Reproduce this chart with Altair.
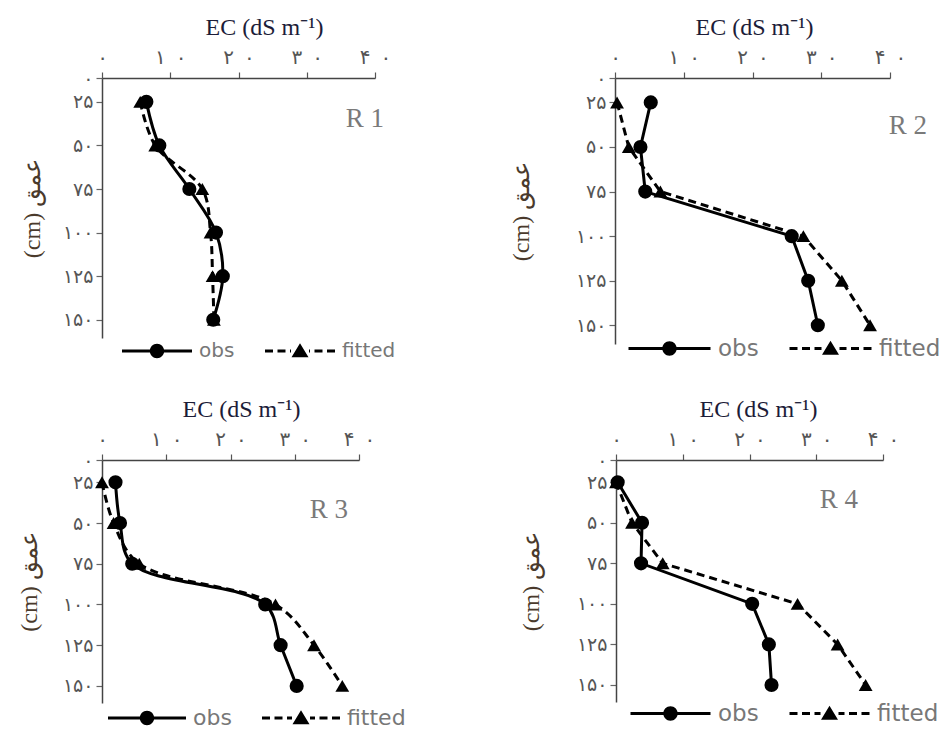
import altair as alt
import pandas as pd

# ---------------- data ----------------
depths = [25, 50, 75, 100, 125, 150]
series_names = ["obs", "fitted"]
panel_ids = ["R1", "R2", "R3", "R4"]
panel_labels = ["R 1", "R 2", "R 3", "R 4"]

obs_r1 = [6.5, 8.4, 12.8, 16.7, 17.7, 16.3]
fit_r1 = [5.6, 7.8, 14.7, 15.9, 16.2, 16.4]
obs_r2 = [5.2, 3.7, 4.4, 25.7, 28.1, 29.5]
fit_r2 = [0.3, 2.0, 6.6, 27.4, 33.0, 37.1]
obs_r3 = [2.1, 2.8, 4.7, 25.4, 27.8, 30.3]
fit_r3 = [0.0, 1.8, 5.8, 27.0, 33.0, 37.4]
obs_r4 = [0.25, 3.9, 3.75, 20.4, 22.9, 23.3]
fit_r4 = [0.0, 2.4, 7.0, 27.2, 33.2, 37.4]

x_ticks = [0, 10, 20, 30, 40]
x_tick_labels = ["۰", "۱\u2002۰", "۲\u2002۰", "۳\u2002۰", "۴\u2002۰"]
depth_ticks = [25, 50, 75, 100, 125, 150]
depth_tick_labels = ["۲۵", "۵۰", "۷۵", "۱۰۰", "۱۲۵", "۱۵۰"]
depth_top_label = "۰"
x_title = "EC (dS m⁻¹)"
y_title = "(cm) عمق"

obs_all = [obs_r1, obs_r2, obs_r3, obs_r4]
fit_all = [fit_r1, fit_r2, fit_r3, fit_r4]
rows = []
for pid, o, f in zip(panel_ids, obs_all, fit_all):
    for d, v in zip(depths, o):
        rows.append({"panel": pid, "series": "obs", "depth": d, "ec": v})
    for d, v in zip(depths, f):
        rows.append({"panel": pid, "series": "fitted", "depth": d, "ec": v})
df = pd.DataFrame(rows)

# ---------------- layout / style ----------------
Y_DOMAIN = [11.3, 160.5]
W = [273, 275, 257, 267]
H = [260, 266, 243, 242]
TITLE_X = [162, 139, 139, 142]
YTITLE_X = [-70, -94, -73, -85]
LEG_X = [44, 43, 34, 43]
LEG_Y = [262, 259, 247, 242]
LEG_FONT = [20, 23, 22, 23]
LEG_HALF = [35, 41, 39, 40]
RTXT = [(282, 41), (312, 48), (246, 50), (242, 40)]
INTERP = ["catmull-rom", "linear", "catmull-rom", "linear"]


def build_expr(vals, labels, default="''"):
    s = default
    for v, l in reversed(list(zip(vals, labels))):
        s = f"datum.value == {v} ? '{l}' : ({s})"
    return s


x_expr = build_expr(x_ticks, x_tick_labels)
y_expr = f"datum.value < 20 ? '{depth_top_label}' : (" + build_expr(depth_ticks, depth_tick_labels) + ")"


def rect(a, b, h):
    return f"M{a:.2f},{-h:.2f}H{b:.2f}V{h:.2f}H{a:.2f}Z"


def legend_paths(half_px):
    # symbol unit = 10 px (symbol size 400)
    L = half_px / 10.0
    h = 0.14
    c = 0.72
    obs_p = (rect(-L, -c + 0.1, h) + rect(c - 0.1, L, h)
             + f"M{c},0A{c},{c},0,1,1,{-c},0A{c},{c},0,1,1,{c},0Z")
    d, g, inner = 0.8, 0.45, 0.9
    segs = []
    x = -L
    while x < -inner:
        x2 = min(x + d, -inner)
        segs.append((x, x2))
        x += d + g
    parts = []
    for a, b in segs:
        parts.append(rect(a, b, h))
        parts.append(rect(-b, -a, h))
    fit_p = "".join(parts) + "M0,-0.78L0.85,0.62L-0.85,0.62Z"
    return obs_p, fit_p


def make_panel(i):
    pid = panel_ids[i]
    base = alt.Chart(df).transform_filter(alt.datum.panel == pid)
    xenc = alt.X(
        "ec:Q",
        scale=alt.Scale(domain=[0, 40], nice=False, zero=False),
        axis=alt.Axis(
            orient="top", values=x_ticks, labelExpr=x_expr, title=x_title,
            titleFont="Liberation Serif", titleFontSize=24, titleFontWeight="normal",
            titleColor="#1c1c38", titleX=TITLE_X[i], titleY=-44,
            titleBaseline="alphabetic", titleAlign="center",
            labelFont="DejaVu Sans", labelFontSize=20, labelColor="#555555",
            labelPadding=5, labelFlush=False, labelOverlap=False,
            tickSize=6, tickColor="#555555", tickWidth=1.2,
            domainColor="#444444", domainWidth=1.5, grid=False,
        ),
    )
    yenc = alt.Y(
        "depth:Q",
        scale=alt.Scale(domain=Y_DOMAIN, reverse=True, nice=False, zero=False),
        axis=alt.Axis(
            orient="left", values=[Y_DOMAIN[0]] + depth_ticks, labelExpr=y_expr,
            title=y_title, titleFont="Liberation Serif", titleFontSize=24,
            titleFontWeight="normal", titleColor="#4a3a2c", titleX=YTITLE_X[i],
            titleBaseline="middle", titleAngle=270,
            labelFont="DejaVu Sans", labelFontSize=19, labelColor="#555555",
            labelPadding=3, labelOverlap=False,
            tickSize=6, tickColor="#666666", tickWidth=1.2,
            domainColor="#444444", domainWidth=1.5, grid=False,
        ),
    )
    order = alt.Order("depth:Q")

    line_obs = base.transform_filter(alt.datum.series == "obs").mark_line(
        color="black", strokeWidth=3, interpolate=INTERP[i]
    ).encode(x=xenc, y=yenc, order=order)
    line_fit = base.transform_filter(alt.datum.series == "fitted").mark_line(
        color="black", strokeWidth=3, strokeDash=[8, 5], interpolate=INTERP[i]
    ).encode(x=xenc, y=yenc, order=order)
    pts_fit = base.transform_filter(alt.datum.series == "fitted").mark_point(
        shape="triangle-up", filled=True, color="black", size=190, opacity=1
    ).encode(x=xenc, y=yenc)
    pts_obs = base.transform_filter(alt.datum.series == "obs").mark_point(
        shape="circle", filled=True, color="black", size=200, opacity=1
    ).encode(x=xenc, y=yenc)

    obs_p, fit_p = legend_paths(LEG_HALF[i])
    half = LEG_HALF[i]
    legend = alt.Legend(
        orient="none", legendX=LEG_X[i], legendY=LEG_Y[i], direction="horizontal",
        title=None, symbolSize=400, labelFont="DejaVu Sans",
        labelFontSize=LEG_FONT[i], labelColor="#777777",
        labelOffset=half - 10 + 6, columnPadding=27, padding=0,
        gridAlign="none", symbolFillColor="black", symbolOpacity=1,
    )
    leg_layer = base.transform_filter("datum.ec < -1000").mark_point(
        filled=True, color="black", size=400, opacity=1
    ).encode(
        x=xenc, y=yenc,
        shape=alt.Shape("series:N", scale=alt.Scale(domain=series_names, range=[obs_p, fit_p]),
                        legend=legend),
    )

    rx, ry = RTXT[i]
    rlabel = alt.Chart(pd.DataFrame({"label": [panel_labels[i]]})).mark_text(
        align="right", baseline="middle", font="Liberation Serif", fontSize=27, color="#7a7a7a"
    ).encode(text="label:N", x=alt.value(rx), y=alt.value(ry))

    return alt.layer(line_fit, line_obs, pts_fit, pts_obs, leg_layer, rlabel).properties(
        width=W[i], height=H[i]
    )


row1 = alt.hconcat(make_panel(0), make_panel(1), spacing=113).resolve_scale(shape="independent").resolve_legend(shape="independent")
row2 = alt.hconcat(make_panel(2), make_panel(3), spacing=113).resolve_scale(shape="independent").resolve_legend(shape="independent")
chart = alt.vconcat(row1, row2, spacing=35).resolve_scale(shape="independent").resolve_legend(
    shape="independent"
).configure(
    padding={"left": 17, "top": 15, "right": 0, "bottom": 0}, background="white"
).configure_view(stroke=None)

chart.save("out.html", embed_options={"renderer": "svg", "actions": False})
